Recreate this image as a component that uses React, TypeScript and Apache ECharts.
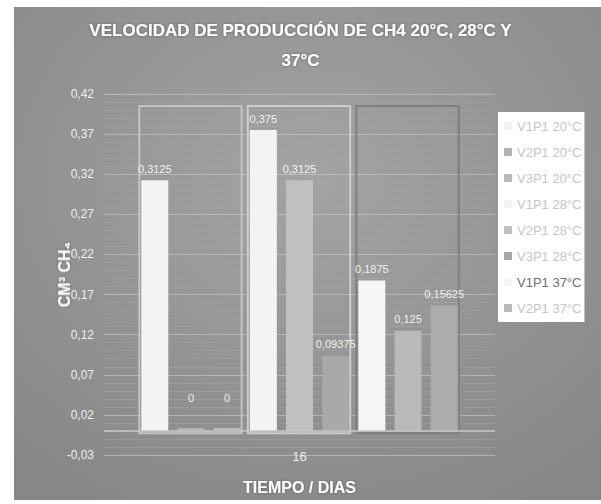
import React, { useEffect, useRef } from "react";
import * as echarts from "echarts";

const categories = ["16"];
const seriesNames = [
  "V1P1 20°C", "V2P1 20°C", "V3P1 20°C",
  "V1P1 28°C", "V2P1 28°C", "V3P1 28°C",
  "V1P1 37°C", "V2P1 37°C", "V3P1 37°C",
];
const seriesValues = [0.3125, 0, 0, 0.375, 0.3125, 0.09375, 0.1875, 0.125, 0.15625];
const seriesColors = [
  "#f3f3f3", "#b2b2b2", "#b9b9b9",
  "#f3f3f3", "#c0c0c0", "#a9a9a9",
  "#f5f5f5", "#b9b9b9", "#acacac",
];
const legendNames = seriesNames.slice(0, 8);
const yMin = -0.03;
const yMax = 0.42;
const yInterval = 0.05;

const FONT = "'Liberation Sans', sans-serif";

export default function App() {
  const ref = useRef<HTMLDivElement>(null);
  useEffect(() => {
    if (!ref.current) return;
    const chart = echarts.init(ref.current, undefined, { renderer: "svg" });
    const BW = 27;
    const series: any[] = seriesNames.map((name, i) => ({
      name,
      type: "bar",
      barWidth: BW,
      barGap: "34%",
      barMinHeight: seriesValues[i] === 0 ? 3 : 0,
      itemStyle: { color: seriesColors[i] },
      label: {
        show: true,
        position: "top",
        distance: seriesValues[i] === 0 ? 24 : 6,
        color: "#f0f0f0",
        fontSize: 11,
        fontFamily: FONT,
        formatter: (p: any) => String(p.value).replace(".", ","),
      },
      data: [seriesValues[i]],
      ...(i === 0
        ? {
            markLine: {
              silent: true,
              symbol: "none",
              label: { show: false },
              lineStyle: { color: "#c9c9c9", width: 1.5, type: "solid" },
              data: [{ yAxis: 0 }],
            },
          }
        : {}),
    }));

    chart.setOption({
      animation: false,
      textStyle: { fontFamily: FONT },
      graphic: [
        {
          id: "bg",
          type: "rect",
          z: -100,
          silent: true,
          shape: { x: 14, y: 7, width: 587, height: 493 },
          style: {
            fill: new echarts.graphic.RadialGradient(0.5, 0.35, 0.75, [
              { offset: 0, color: "#a3a3a3" },
              { offset: 1, color: "#878787" },
            ]),
          },
        },
      ],
      title: {
        text: "VELOCIDAD DE PRODUCCIÓN DE CH4 20°C, 28°C Y\n37°C",
        left: "center",
        top: 10,
        textStyle: {
          color: "#ffffff",
          fontSize: 17,
          fontWeight: "bold",
          lineHeight: 30,
          fontFamily: FONT,
          textShadowColor: "rgba(0,0,0,0.35)",
          textShadowBlur: 3,
        },
      },
      legend: {
        orient: "vertical",
        left: 498,
        top: 112,
        data: legendNames.map((n, i) => ({
          name: n,
          textStyle: { color: i === 6 ? "#6e6e6e" : "#c6c6c6" },
        })),
        backgroundColor: "#ffffff",
        padding: [7, 3, 7, 6],
        itemWidth: 8,
        itemHeight: 8,
        itemGap: 12,
        icon: "rect",
        textStyle: { fontSize: 13, color: "#c6c6c6", fontFamily: FONT, lineHeight: 14 },
        selectedMode: false,
      },
      grid: { left: 104, right: 106, top: 94, bottom: 49 },
      xAxis: {
        type: "category",
        data: categories,
        axisLine: { show: false, onZero: false },
        axisTick: { show: false },
        axisLabel: { color: "#eeeeee", fontSize: 13, margin: -5 },
        name: "TIEMPO / DIAS",
        nameLocation: "middle",
        nameGap: 24,
        nameMoveOverlap: false,
        nameTextStyle: {
          color: "#ffffff",
          fontSize: 16,
          fontWeight: "bold",
          fontFamily: FONT,
          textShadowColor: "rgba(0,0,0,0.3)",
          textShadowBlur: 3,
        },
      },
      yAxis: {
        type: "value",
        min: yMin,
        max: yMax,
        interval: yInterval,
        axisLine: { show: false },
        axisTick: { show: false },
        axisLabel: {
          color: "#eeeeee",
          fontSize: 12,
          margin: 10,
          formatter: (v: number) => v.toFixed(2).replace(".", ","),
        },
        splitLine: { lineStyle: { color: "rgba(210,210,210,0.55)", width: 1 } },
        minorTick: { show: false, splitNumber: 5 },
        minorSplitLine: { show: true, lineStyle: { color: "rgba(200,200,200,0.18)", width: 1 } },
        name: "CM³ CH₄",
        nameLocation: "middle",
        nameGap: 32,
        nameMoveOverlap: false,
        nameTextStyle: {
          color: "#ffffff",
          fontSize: 16,
          fontWeight: "bold",
          fontFamily: FONT,
          textShadowColor: "rgba(0,0,0,0.3)",
          textShadowBlur: 3,
        },
      },
      series,
    });

    // group boxes computed from the axis scales
    const cx = chart.convertToPixel({ xAxisIndex: 0 }, 0) as number;
    const gap = BW * 0.34;
    const total = seriesNames.length * BW + (seriesNames.length - 1) * gap;
    const barLeft = (i: number) => cx - total / 2 + i * (BW + gap);
    const yTop = chart.convertToPixel({ yAxisIndex: 0 }, 0.405) as number;
    const yBot = chart.convertToPixel({ yAxisIndex: 0 }, -0.003) as number;
    const boxColors = ["#c4c4c4", "#cdcdcd", "#7f7f7f"];
    const boxes = [0, 1, 2].map((g) => {
      const l = barLeft(g * 3) - 2;
      const r = barLeft(g * 3 + 2) + BW + 1;
      return {
        id: "box" + g,
        type: "rect",
        silent: true,
        z: 1,
        shape: { x: l, y: yTop, width: r - l, height: yBot - yTop },
        style: { fill: "none", stroke: boxColors[g], lineWidth: 2 },
      };
    });
    chart.setOption({ graphic: boxes });

    return () => chart.dispose();
  }, []);
  return (
    <div
      ref={ref}
      style={{ position: "fixed", left: 0, top: 0, width: 601, height: 504, background: "#fff" }}
    />
  );
}
